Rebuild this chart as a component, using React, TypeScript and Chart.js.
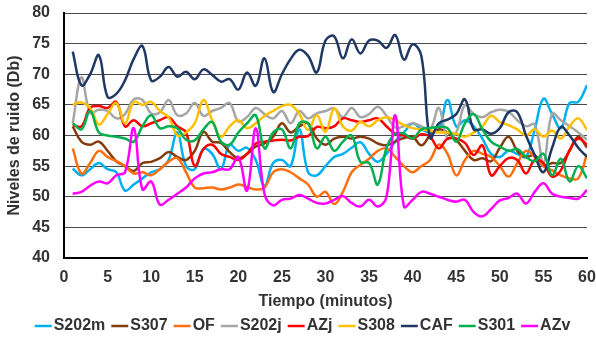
import React, { useEffect, useRef } from "react";
import { Chart, registerables } from "chart.js";

Chart.register(...registerables);

const minutes = [
  1, 2, 3, 4, 5, 6, 7, 8, 9, 10, 11, 12, 13, 14, 15, 16, 17, 18, 19, 20,
  21, 22, 23, 24, 25, 26, 27, 28, 29, 30, 31, 32, 33, 34, 35, 36, 37, 38, 39, 40,
  41, 42, 43, 44, 45, 46, 47, 48, 49, 50, 51, 52, 53, 54, 55, 56, 57, 58, 59, 60,
];

const seriesNames = ["S202m", "S307", "OF", "S202j", "AZj", "S308", "CAF", "S301", "AZv"];
const seriesColors = ["#00B0F0", "#843C0C", "#FF6F0F", "#A6A6A6", "#FF0000", "#FFC000", "#203864", "#00B050", "#FF00FF"];

const S202m = [
  54.6, 53.5, 54.5, 55.5, 54.5, 54, 51, 52, 53, 54,
  54.5, 56, 60.5, 55, 54.5, 57.8, 57, 54.5, 58.5, 57.5,
  58, 56, 51.8, 55.5, 56, 55, 61, 54, 53.5, 55,
  56.5, 57, 58, 58.9, 57, 55.7, 57, 59, 60.5, 62,
  61, 60.5, 61, 65.8, 61.5, 62.5, 61.5, 59.5, 57, 56.5,
  57.5, 57, 56.5, 61, 66, 63.5, 61.2, 65.3, 65.5, 68.2,
];
const S307 = [
  61.5, 59, 58.5, 59, 57.5, 55.8, 55, 54.2, 55.5, 55.7,
  56.3, 57.3, 56.5, 56, 57.5, 60.6, 59, 58.8, 57.3, 56.3,
  57, 58.2, 58.7, 59.8, 62, 60.5, 61.5, 62, 59.5, 58.5,
  59.5, 59.8, 59.5, 59.8, 59.5, 58.7, 58.4, 59, 59.6, 59.8,
  58.4, 60, 61, 60.5, 59.3, 57.5, 56, 56.3, 55.8, 58,
  59.8, 57.5, 56.5, 56.8, 55, 55.5, 55.5, 57.5, 59.8, 58,
];
const OF = [
  57.9, 53.8, 55.5, 57.5, 56.5, 55.8, 55, 53.8, 54, 53.5,
  54.5, 55.7, 56.3, 54, 51.5, 51.4, 51.5, 51.2, 51.5, 52,
  51.6, 51.2, 51.5, 54, 54.5, 54, 53, 52, 50, 50.8,
  48.8, 50.8, 54, 55.2, 56.2, 57.5, 57.9, 56.5, 55, 54,
  55, 56, 58.5, 57, 53.5, 56, 57.5, 57, 56.5, 55,
  53.3, 55.5, 57.5, 56.5, 55, 54.3, 53.5, 53, 53, 57,
];
const S202j = [
  62, 69.5, 63.7, 64.2, 64, 62.8, 63.5, 65.9, 65.8, 63.6,
  63.8, 65.8, 63.3, 63.6, 65.3, 63.2, 64, 64.5, 65.3, 62.3,
  63, 64.5, 63.5, 62.8, 64, 62, 64, 62.8, 63.6, 64,
  64.4, 63, 64.5, 63, 63.5, 64.7, 63.2, 61.3, 61.5, 62,
  61.5, 61, 64.5, 59.5, 60.5, 65, 63.5, 63, 63.8, 64.2,
  63.9, 62.5, 61.5, 61.8, 55.5, 63.6, 62.5, 61.5, 60.5, 59.3,
];
const AZj = [
  61.7, 61.5, 64.5, 64.8, 64.5, 65.5, 61.5, 62.5, 61.5, 62,
  62.5, 63, 61.5, 60.5, 55, 57.8, 58.5, 57, 56.5, 56,
  57, 58.7, 59, 59.2, 59.3, 59.2, 59.8, 59.9, 61.4, 61.2,
  61.5, 62.8, 62.5, 62.2, 62.5, 62.8, 61.5, 60.3, 60, 59.5,
  60.2, 59.8, 57.9, 59.5, 59.5, 58.8, 56.8, 58.4, 53.5, 55,
  56.3, 56, 53.8, 56, 55.5, 53.3, 54.3, 57.6, 59.5, 58.5,
];
const S308 = [
  65, 65.4, 64.5, 61.8, 63.5, 65.3, 62, 65.5, 65, 65.5,
  64, 63, 60, 60.5, 62, 65.8, 62.5, 59.8, 61.5, 62.5,
  61.2, 62, 63.2, 64, 64.8, 65, 63.5, 60.9, 63.3, 60.6,
  64.4, 61.5, 60.8, 62.2, 61.5, 62.5, 63, 62.5, 61.7, 61.2,
  61, 60.8, 60.5, 60.5, 60.3, 59.8, 60.5, 61.5, 63.2, 62.2,
  61.7, 61, 60, 61, 59.8, 60.8, 59.5, 61.5, 62.8, 60.9,
];
const CAF = [
  73.7, 68.2, 70, 73.1, 66.3, 66.8, 69, 72.5, 74.6, 69,
  69.6, 71.2, 69.6, 70.4, 69.2, 70.8, 69.9, 68.8, 69.2, 67.5,
  70.3, 68.1, 72.6, 67.1, 70, 72.5, 74, 73, 70.3, 75.5,
  76.2, 72.6, 75.7, 73.4, 75.5, 75.5, 74.3, 76.4, 72.4, 74.9,
  73, 59.6, 62, 62.6, 63.5, 65.9, 61, 61, 60.3, 61.2,
  63.8, 63.8, 60, 56.8, 54, 58, 61.4, 60, 58, 56.5,
];
const S301 = [
  62, 61, 64, 60.5, 60, 59.8, 59.5, 59, 61.5, 63.3,
  61.2, 61.5, 61.2, 59.3, 59.2, 61, 62.2, 59, 58.5, 60.5,
  62, 63.3, 57.9, 60.5, 61, 57.9, 62, 62, 57.9, 59.8,
  57.5, 59, 60, 55.7, 55.5, 52, 58, 60.3, 60.3, 59.5,
  61, 61.2, 61.4, 61.2, 59, 62, 63.5, 61, 59, 58.2,
  57.5, 57.8, 56.5, 55.8, 57, 53.5, 56.2, 52.5, 55, 53,
];
const AZv = [
  50.5, 50.8, 51.8, 52.5, 52.2, 53.5, 54, 61.2, 51.2, 52.5,
  48.7, 49.5, 50.5, 51.5, 53, 53.8, 54, 54.5, 54.5, 56.5,
  51, 61.2, 50.5, 48.6, 49.5, 49.7, 50.3, 49.7, 49, 48.9,
  49.5, 50.1, 49, 48.4, 49.5, 48.4, 50, 63.3, 48.4, 49.5,
  50.8, 50.5, 50, 49.5, 49.2, 49.5, 47.5, 46.8, 48, 49.4,
  49.8, 50.5, 48.9, 50.8, 52.2, 50.5, 50, 49.8, 49.7, 51.1,
];

const seriesValues = [S202m, S307, OF, S202j, AZj, S308, CAF, S301, AZv];

const FONT = "'Liberation Sans', Arial, Helvetica, sans-serif";
const TEXT = "#333333";

const legendShift = {
  id: "legendShift",
  afterLayout: (chart: any) => {
    if (chart.legend) {
      chart.legend.left += 12;
      chart.legend.right += 12;
    }
  },
};

export default function App() {
  const ref = useRef<HTMLCanvasElement | null>(null);

  useEffect(() => {
    if (!ref.current) return;
    const datasets = seriesNames.map((name, i) => ({
      label: name,
      data: minutes.map((m, j) => ({ x: m, y: seriesValues[i][j] })),
      borderColor: seriesColors[i],
      backgroundColor: seriesColors[i],
      borderWidth: 2.5,
      pointRadius: 0,
      pointHoverRadius: 0,
      tension: 0.4,
      fill: false,
      order: seriesNames.length - i,
    }));

    const chart = new Chart(ref.current, {
      type: "line",
      data: { datasets },
      plugins: [legendShift],
      options: {
        responsive: false,
        animation: false,
        layout: { padding: { top: 13, right: 9, bottom: 0, left: 0 } },
        plugins: {
          tooltip: { enabled: false },
          legend: {
            position: "bottom",
            labels: {
              usePointStyle: true,
              pointStyle: "line",
              boxWidth: 5,
              boxHeight: 12,
              padding: 12,
              color: TEXT,
              font: { family: FONT, size: 16, weight: "bold" },
              sort: (a: any, b: any) => a.datasetIndex - b.datasetIndex,
            },
          },
        },
        scales: {
          x: {
            type: "linear",
            min: 0,
            max: 60,
            afterFit: (s: any) => {
              s.height = 48;
              s.paddingLeft = 0;
              s.paddingRight = 0;
            },
            ticks: {
              stepSize: 5,
              autoSkip: false,
              maxRotation: 0,
              padding: 10,
              color: TEXT,
              font: { family: FONT, size: 16, weight: "bold" },
            },
            grid: { display: false, drawTicks: false },
            border: { display: true, color: "#000000", width: 2 },
            title: {
              display: true,
              text: "Tiempo (minutos)",
              color: TEXT,
              font: { family: FONT, size: 16, weight: "bold" },
              padding: { top: 0, bottom: -5.5 },
            },
          },
          y: {
            type: "linear",
            min: 40,
            max: 80,
            afterFit: (s: any) => {
              s.width = 64;
              s.paddingTop = 0;
              s.paddingBottom = 0;
            },
            ticks: {
              stepSize: 5,
              padding: 14,
              color: TEXT,
              font: { family: FONT, size: 16, weight: "bold" },
            },
            grid: { color: "#4a4a4a", lineWidth: 1, drawTicks: false },
            border: { display: true, color: "#000000", width: 2 },
            title: {
              display: true,
              text: "Niveles de ruido (Db)",
              color: TEXT,
              font: { family: FONT, size: 16, weight: "bold" },
              padding: { top: 5, bottom: 0 },
            },
          },
        },
      },
    });
    return () => chart.destroy();
  }, []);

  return (
    <div style={{ position: "absolute", left: 0, top: 0, width: 596, height: 341, overflow: "hidden", background: "#fff" }}>
      <canvas ref={ref} width={596} height={344} style={{ display: "block" }} />
    </div>
  );
}
